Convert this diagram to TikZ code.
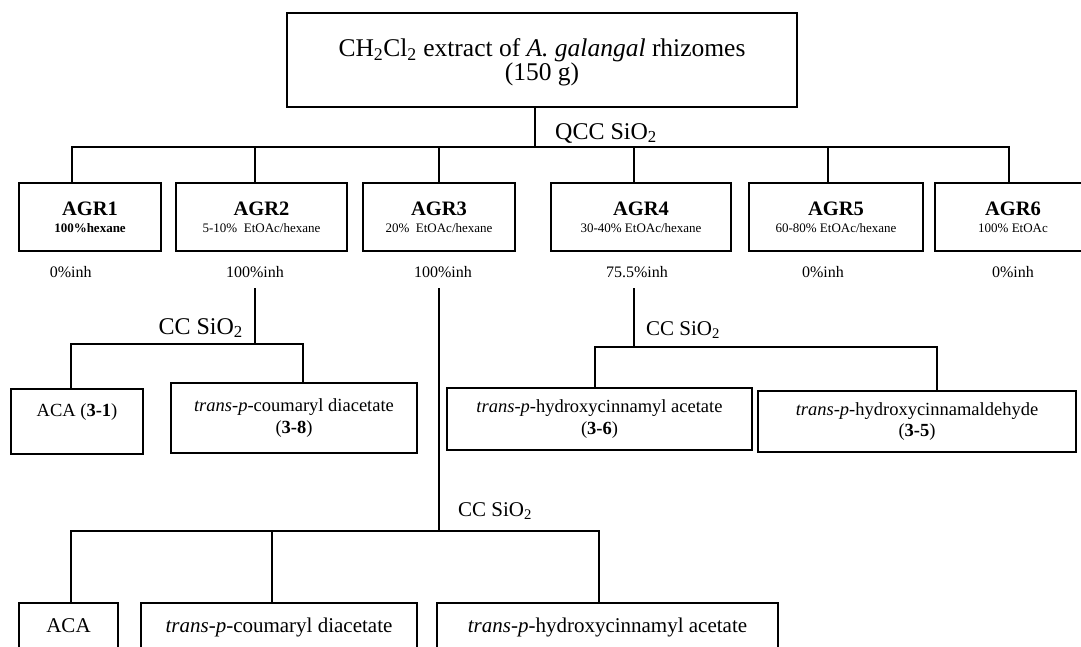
\documentclass[tikz,border=0pt]{standalone}
\usepackage{fontspec}
\setmainfont{Liberation Serif}
\tikzset{
  box/.style={draw, line width=1.8pt, inner sep=0pt, align=center},
  conn/.style={line width=1.5pt, line join=miter},
  agr/.style={box, minimum height=68pt, font=\fontsize{20.5}{17}\selectfont\bfseries},
  cmp/.style={box, font=\fontsize{18.5}{21.5}\selectfont},
  cmpone/.style={box, anchor=north, font=\fontsize{18.5}{21.5}\selectfont, text height=28pt, text depth=37pt},
  cmpb/.style={box, anchor=north, font=\fontsize{21}{24}\selectfont, text height=30pt, text depth=40pt},
  inh/.style={anchor=base, inner sep=0pt, font=\fontsize{16}{18}\selectfont},
  lblbig/.style={inner sep=0pt, font=\fontsize{24}{26}\selectfont},
  lblmid/.style={inner sep=0pt, font=\fontsize{21}{23}\selectfont},
}
\newcommand{\subtxt}[1]{{\mdseries\fontsize{13}{17}\selectfont #1}}
\begin{document}
\begin{tikzpicture}[x=1pt,y=-1pt]
\useasboundingbox (0,0) rectangle (1081,646);
\clip (0,0) rectangle (1081,646);
% top
\node[box, minimum width=510pt, minimum height=94pt, font={\fontsize{25.5}{24}\selectfont}] (top) at (542,60)
  {\rule{0pt}{23.4pt}CH\textsubscript{2}Cl\textsubscript{2} extract of \textit{A. galangal} rhizomes\\(150 g)};
% fractions
\node[agr, minimum width=142pt] (agr1) at (90,217) {AGR1\\{\fontsize{13}{17}\selectfont 100\%hexane}};
\node[agr, minimum width=171pt] (agr2) at (261.5,217) {AGR2\\\subtxt{5-10\%~ EtOAc/hexane}};
\node[agr, minimum width=152pt] (agr3) at (439,217) {AGR3\\\subtxt{20\%~ EtOAc/hexane}};
\node[agr, minimum width=180pt] (agr4) at (641,217) {AGR4\\\subtxt{30-40\% EtOAc/hexane}};
\node[agr, minimum width=174pt] (agr5) at (836,217) {AGR5\\\subtxt{60-80\% EtOAc/hexane}};
\node[agr, minimum width=156pt] (agr6) at (1013,217) {AGR6\\\subtxt{100\% EtOAc}};
% inhibition
\node[inh] (inh1) at (70.7,277) {0\%inh};
\node[inh] (inh2) at (255,277) {100\%inh};
\node[inh] (inh3) at (443,277) {100\%inh};
\node[inh] (inh4) at (637,277) {75.5\%inh};
\node[inh] (inh5) at (823,277) {0\%inh};
\node[inh] (inh6) at (1013,277) {0\%inh};
% compounds from AGR2
\node[cmpone, minimum width=132pt] (aca1) at (77,388) {ACA (\textbf{3-1})};
\node[cmp, minimum width=246pt, minimum height=70pt] (cou1) at (294,418)
  {\textit{trans-p}-coumaryl diacetate\\(\textbf{3-8})};
% compounds from AGR4
\node[cmp, minimum width=305pt, minimum height=62pt] (hyac1) at (599.5,419)
  {\textit{trans-p}-hydroxycinnamyl acetate\\(\textbf{3-6})};
\node[cmp, minimum width=318pt, minimum height=61pt] (hyal1) at (917,421.5)
  {\textit{trans-p}-hydroxycinnamaldehyde\\(\textbf{3-5})};
% compounds from AGR3
\node[cmpb, minimum width=99pt] (aca2) at (68.5,602) {ACA};
\node[cmpb, minimum width=276pt] (cou2) at (279,602) {\textit{trans-p}-coumaryl diacetate};
\node[cmpb, minimum width=341pt] (hyac2) at (607.5,602) {\textit{trans-p}-hydroxycinnamyl acetate};
% labels
\node[lblbig, anchor=base west] (qcc) at (555,139) {QCC SiO\textsubscript{2}};
\node[lblbig, anchor=base east] (cc2) at (243,334) {CC SiO\textsubscript{2}};
\node[lblmid, anchor=base west] (cc4) at (646,335) {CC SiO\textsubscript{2}};
\node[lblmid, anchor=base west] (cc3) at (458,516) {CC SiO\textsubscript{2}};
% coordinates
\coordinate (j0) at (535,147);
\coordinate (b1) at (72,147);
\coordinate (b2) at (255,147);
\coordinate (b3) at (439,147);
\coordinate (b4) at (634,147);
\coordinate (b5) at (828,147);
\coordinate (b6) at (1009,147);
\coordinate (s2) at (255,288);
\coordinate (c2) at (255,344);
\coordinate (c2l) at (71,344);
\coordinate (c2r) at (303,344);
\coordinate (s3) at (439,288);
\coordinate (c3) at (439,531);
\coordinate (c3l) at (71,531);
\coordinate (c3m) at (272,531);
\coordinate (c3r) at (599,531);
\coordinate (s4) at (634,288);
\coordinate (c4) at (634,347);
\coordinate (c4l) at (595,347);
\coordinate (c4r) at (937,347);
% connectors
\draw[conn] (top.south -| j0) -- (j0);
\draw[conn] (b1 |- agr1.north) -- (b1) -- (b6) -- (b6 |- agr6.north);
\draw[conn] (b2) -- (b2 |- agr2.north);
\draw[conn] (b3) -- (b3 |- agr3.north);
\draw[conn] (b4) -- (b4 |- agr4.north);
\draw[conn] (b5) -- (b5 |- agr5.north);
\draw[conn] (s2) -- (c2);
\draw[conn] (c2l |- aca1.north) -- (c2l) -- (c2r) -- (c2r |- cou1.north);
\draw[conn] (s3) -- (c3);
\draw[conn] (c3l |- aca2.north) -- (c3l) -- (c3r) -- (c3r |- hyac2.north);
\draw[conn] (c3m) -- (c3m |- cou2.north);
\draw[conn] (s4) -- (c4);
\draw[conn] (c4l |- hyac1.north) -- (c4l) -- (c4r) -- (c4r |- hyal1.north);
\end{tikzpicture}
\end{document}
